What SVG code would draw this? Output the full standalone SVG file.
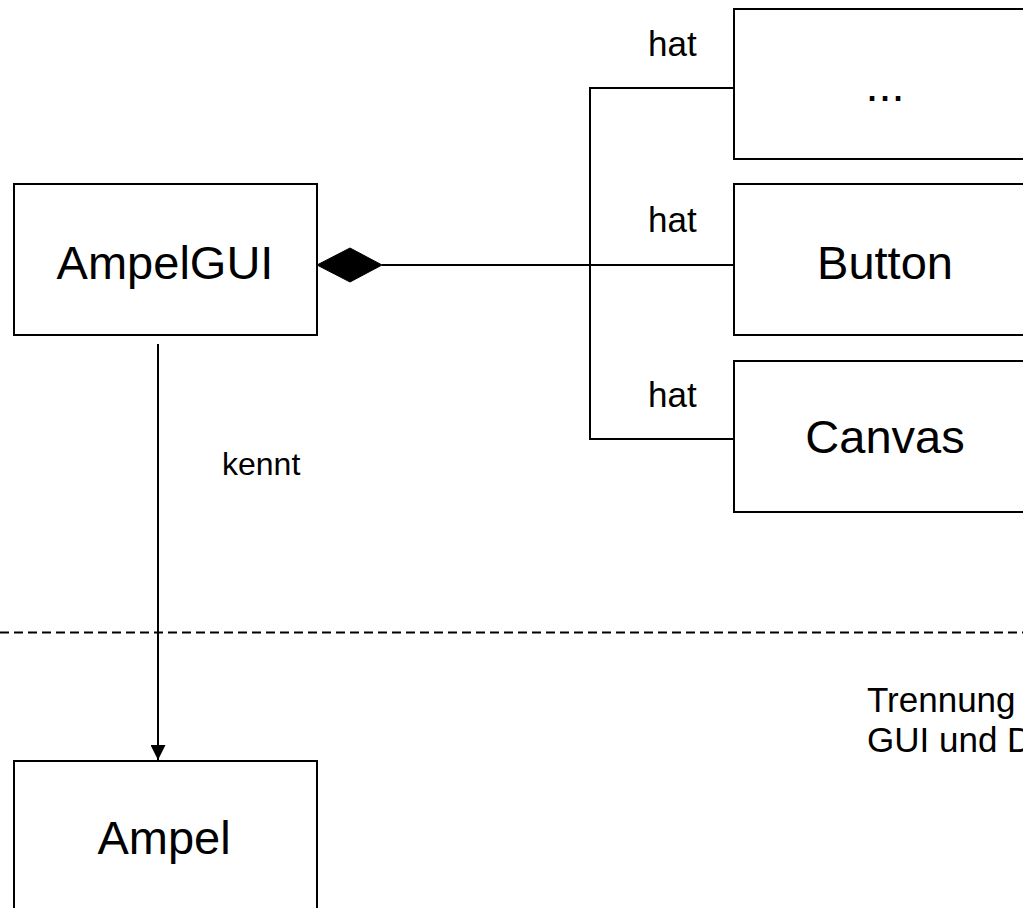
<svg xmlns="http://www.w3.org/2000/svg" width="1023" height="908" viewBox="0 0 1023 908">
<style>
.box{fill:#fff;stroke:#000;stroke-width:2}
.ln{fill:none;stroke:#000;stroke-width:2}
.big{font-family:"Liberation Sans",Arial,sans-serif;font-size:47px;fill:#000;text-anchor:middle}
.lbl{font-family:"Liberation Sans",Arial,sans-serif;font-size:35px;fill:#000}
</style>
<defs>
<marker id="arr" viewBox="0 0 15 15" refX="15" refY="7.5" markerWidth="15" markerHeight="15" markerUnits="userSpaceOnUse" orient="auto">
<path d="M0,0 L15,7.5 L0,15 Z" fill="#000"/>
</marker>
</defs>
<g id="connectors">
<polygon points="317,265 350,248 382,265 350,282" fill="#000" stroke="#000" stroke-width="1"/>
<line class="ln" x1="382" y1="265" x2="734" y2="265"/>
<polyline class="ln" points="734,88 590,88 590,439 734,439"/>
<line class="ln" x1="158" y1="344" x2="158" y2="760" marker-end="url(#arr)"/>
<text class="lbl" x="648" y="56">hat</text>
<text class="lbl" x="648" y="232">hat</text>
<text class="lbl" x="648" y="407">hat</text>
<text class="lbl" x="222" y="475" style="font-size:32px">kennt</text>
</g>
<line id="separator" x1="0" y1="632.5" x2="1023" y2="632.5" stroke="#000" stroke-width="2" stroke-dasharray="9 5"/>
<g id="node-ampelgui">
<rect class="box" x="14" y="184" width="303" height="151"/>
<text class="big" x="165" y="279">AmpelGUI</text>
</g>
<g id="node-dots">
<rect class="box" x="734" y="9" width="303" height="150"/>
<text class="big" x="885" y="101">...</text>
</g>
<g id="node-button">
<rect class="box" x="734" y="184" width="303" height="151"/>
<text class="big" x="885" y="279">Button</text>
</g>
<g id="node-canvas">
<rect class="box" x="734" y="361" width="303" height="151"/>
<text class="big" x="885" y="453">Canvas</text>
</g>
<g id="node-ampel">
<rect class="box" x="14" y="761" width="303" height="160"/>
<text class="big" x="164" y="854">Ampel</text>
</g>
<g id="note">
<text class="lbl" x="867" y="712">Trennung</text>
<text class="lbl" x="867" y="752">GUI und D</text>
</g>
</svg>
